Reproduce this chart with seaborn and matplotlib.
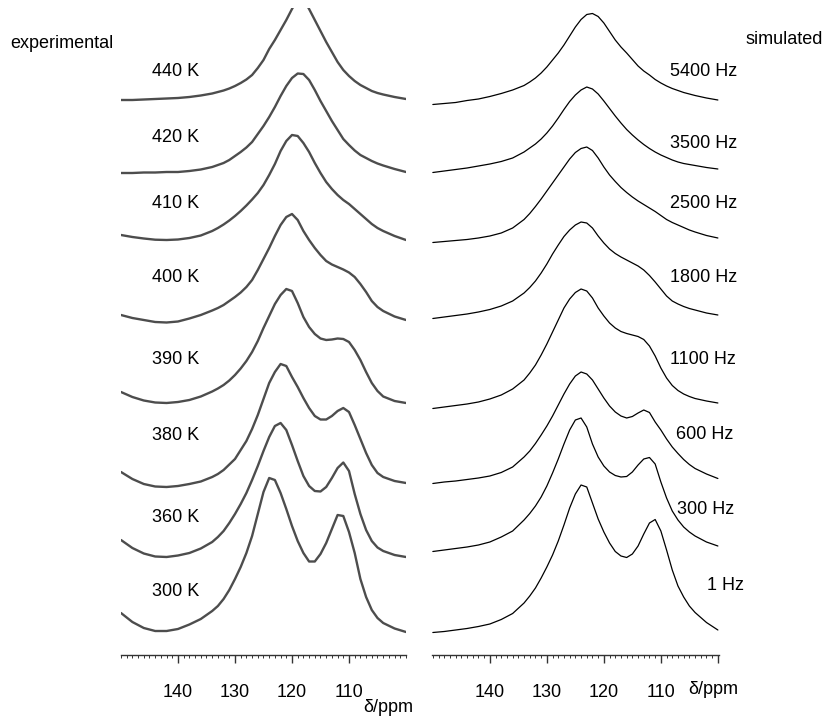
import numpy as np
import pandas as pd
import seaborn as sns
import matplotlib.pyplot as plt

# chemical shift grid (ppm) shared by all spectra
ppm = [150, 148, 146, 144, 142, 140, 138, 136,
       134, 133, 132, 131, 130, 129, 128, 127, 126, 125, 124, 123, 122, 121, 120,
       119, 118, 117, 116, 115, 114, 113, 112, 111, 110,
       109, 108, 107, 106, 105, 104, 102, 100]

# experimental spectra, intensity above each trace's baseline
exp_labels = ["440 K", "420 K", "410 K", "400 K", "390 K", "380 K", "360 K", "300 K"]
exp_440 = [-1, -1, -0.5, 0, 0.5, 1, 2, 3.5,
           5.5, 7, 8.5, 10.5, 13, 16, 19.5, 24, 31, 39, 50, 59, 69, 79, 90,
           100, 100, 90, 79, 68, 57, 47, 37, 29, 23, 18, 14, 11, 8, 6, 4.5, 2, 0]
exp_420 = [-1, -1, -0.5, -0.5, 0, 0, 1, 2.5,
           5, 7, 9, 12, 16, 20, 24.5, 30, 38, 46, 55, 65, 76, 86, 94,
           98.5, 98, 92, 82, 71, 61, 51, 42, 33, 27, 21.5, 17, 14, 11, 8.5, 6.5, 3, 0]
exp_410 = [5, 3, 1.5, 0.3, 0, 0.5, 2, 4.5,
           9, 12, 15.5, 19.5, 24, 29, 34.5, 40.5, 47, 55, 65, 76, 89, 99, 105,
           104, 97, 88, 77, 67, 58, 51, 45, 40, 36, 31, 26, 21, 16, 12, 9, 4, 0]
exp_400 = [5, 2, 0, -2, -2.5, -1.5, 1.5, 5,
           9.5, 12, 15, 19, 23, 27.5, 33, 40, 50, 61, 72, 84, 95, 103, 106,
           100, 89, 80, 72, 65, 59, 55.5, 53, 50.5, 47.5, 43, 36, 28, 19, 13, 9, 3.5, 0]
exp_390 = [11, 6, 2.5, 0.5, 0, 1, 3, 6.5,
           11.5, 14.5, 18, 22.5, 28, 34.5, 42, 51, 62, 75, 87, 99, 108, 114, 112,
           100, 86, 76, 69, 64.5, 63, 63.5, 64.5, 64, 61, 53, 43, 31, 20, 12, 6.5, 2, 0]
exp_380 = [11, 4, -1, -3.5, -4, -3, -1, 1.5,
           6, 9, 13, 18.5, 24, 33, 42, 54, 68, 84, 100, 111, 119, 117, 106,
           96, 85, 75, 67, 63.5, 63.5, 67, 72, 75, 71, 58, 44, 30, 18, 10, 6, 2, 0]
exp_360 = [17, 9, 3.5, 0.5, 0, 1.5, 4, 8.5,
           15, 20, 26, 34, 43, 53, 64, 77, 91, 106, 120, 131, 134, 127, 112,
           96, 81, 71, 66, 65.5, 70, 79, 89, 94.5, 86, 63, 43, 27, 16, 9.5, 6, 2, 0]
exp_300 = [19, 10, 4, 1, 1, 3, 7.5, 13,
           21, 26, 33, 42, 53, 65, 79, 96, 118, 140, 154, 152, 139, 123, 106,
           91, 79, 70.5, 70.5, 78, 89, 103, 117, 116, 100, 79, 53, 35, 22, 14, 9, 3.5, 0]

# simulated spectra (exchange rates)
sim_labels = ["5400 Hz", "3500 Hz", "2500 Hz", "1800 Hz", "1100 Hz", "600 Hz", "300 Hz", "1 Hz"]
sim_5400 = [0.5, 1.5, 2.5, 4.5, 6, 8.5, 11.5, 15,
            19.5, 23, 27, 32, 38, 45, 52, 60, 69, 78, 85.5, 90.5, 91.5, 88.5, 82,
            73.5, 65, 58, 52, 45.5, 39, 34, 30, 25.5, 22, 19, 16.5, 14.5, 12.5, 11, 9.5, 7, 5]
sim_3500 = [0.5, 2, 3.5, 5, 7, 9, 11.5, 15,
            21, 25, 29, 34, 40, 47, 55, 63.5, 71.5, 78, 83, 86, 84, 79, 72,
            64.5, 57, 50, 43.5, 38, 33, 28.5, 24.5, 21, 18, 15.5, 13, 11, 9.5, 8.5, 7.5, 5.5, 4]
sim_2500 = [0.5, 1.5, 2.5, 3.5, 5, 7, 10, 15,
            23.5, 29.5, 36.5, 44, 52, 60, 68, 76, 84, 90.5, 94.5, 96, 92.5, 85, 76,
            68, 61.5, 55.5, 50.5, 46, 42, 38.5, 35, 31.5, 27.5, 23.5, 20.5, 18, 15.5, 13, 11, 7.5, 5]
sim_1800 = [0.5, 2, 3.5, 5, 7, 9.5, 13, 18,
            26, 31.5, 38, 46, 55, 65, 74, 82.5, 89, 94, 97, 96, 91, 83, 76,
            70, 65.5, 62, 59, 56, 53, 49, 43.5, 37, 30, 23, 18, 15, 12.5, 10.5, 9, 6, 4]
sim_1100 = [0.5, 2, 3.5, 5, 7, 10, 14, 20,
            29, 36, 44, 54, 65, 77, 89, 101, 110, 116.5, 120, 118, 111, 101, 93,
            86, 81, 77.5, 75.5, 74, 72.5, 69.5, 63, 53, 41, 31, 23.5, 18.5, 15, 12.5, 10.5, 8, 6]
sim_600 = [0.5, 2, 3, 4.5, 6, 8, 11.5, 17,
           27, 33, 40.5, 49, 58, 68, 79, 90, 100, 108, 112, 110, 104, 95, 86,
           78, 72, 68, 66, 67.5, 71, 74, 71.5, 62, 54, 45, 37, 30.5, 24.5, 19.5, 15.5, 10, 5.5]
sim_300 = [0.5, 2, 3.5, 5, 7, 10, 15, 21,
           32, 38.5, 46, 55, 66, 79, 93, 108, 122, 132, 134, 125, 108, 95, 86,
           80, 76.5, 75, 75.5, 80, 87, 93, 94.5, 88, 70, 54, 41, 32, 25, 20, 16, 10, 6]
sim_1 = [0.5, 1.5, 3, 4.5, 6.5, 9, 13.5, 19.5,
         30, 37, 45, 55, 66, 78, 92, 108, 125, 139, 148, 146, 130, 114, 101,
         90, 81.5, 77, 75.5, 79, 87, 99, 110, 113.5, 102, 83, 63, 47, 36, 27, 20.5, 10.5, 3]

exp_series = [exp_440, exp_420, exp_410, exp_400, exp_390, exp_380, exp_360, exp_300]
sim_series = [sim_5400, sim_3500, sim_2500, sim_1800, sim_1100, sim_600, sim_300, sim_1]

# layout: vertical stacking offsets and label positions (figure pixels)
W, H = 827, 716
exp_offsets = [556, 483, 415, 335, 252, 172, 98, 23]
sim_offsets = [550, 482, 412, 336, 246, 171, 103, 22]
exp_label_y = [72, 137, 203, 278, 360, 436, 518, 592]
sim_label_xy = [(670, 71), (670, 143), (670, 203), (670, 278), (670, 360),
                (676, 435), (677, 510), (707, 586)]


def stacked_frame(series, offsets, names):
    frames = []
    for name, vals, off in zip(names, series, offsets):
        frames.append(pd.DataFrame({"ppm": ppm,
                                    "y": np.asarray(vals, float) + off,
                                    "spectrum": name}))
    return pd.concat(frames, ignore_index=True)


sns.set_theme(style="ticks")
plt.rcParams["font.family"] = ["Liberation Sans", "DejaVu Sans"]
plt.rcParams["text.color"] = "black"

fig = plt.figure(figsize=(W / 100, H / 100), dpi=100)
bottom = (H - 655) / H
height = 647 / H
ax_l = fig.add_axes([120.7 / W, bottom, 285.3 / W, height])
ax_r = fig.add_axes([431.7 / W, bottom, 287.6 / W, height])

sns.lineplot(data=stacked_frame(exp_series, exp_offsets, exp_labels),
             x="ppm", y="y", units="spectrum", estimator=None, sort=False,
             color="#4d4d4d", linewidth=1.7, ax=ax_l)
sns.lineplot(data=stacked_frame(sim_series, sim_offsets, sim_labels),
             x="ppm", y="y", units="spectrum", estimator=None, sort=False,
             color="black", linewidth=0.9, ax=ax_r)

for ax, xlim, majors in [(ax_l, (150.05, 100.0), [140, 130, 120, 110]),
                         (ax_r, (150.2, 99.75), [140, 130, 120, 110, 100])]:
    ax.set_xlim(*xlim)
    ax.set_ylim(0, 647)
    ax.set_xlabel("")
    ax.set_ylabel("")
    ax.set_yticks([])
    ax.set_xticks(majors)
    ax.set_xticklabels([str(m) if m != 100 else "" for m in majors])
    ax.set_xticks(np.arange(100, 151, 1), minor=True)
    sns.despine(ax=ax, left=True)
    ax.spines["bottom"].set_color("#333333")
    ax.spines["bottom"].set_linewidth(1.0)
    ax.tick_params(axis="x", which="major", direction="out", length=5.8,
                   width=1.0, color="#333333", pad=15, labelsize=13,
                   labelcolor="black")
    ax.tick_params(axis="x", which="minor", direction="out", length=2.2,
                   width=0.7, color="#333333")
    ax.patch.set_alpha(0)

for lab, y in zip(exp_labels, exp_label_y):
    fig.text(152 / W, 1 - y / H, lab, fontsize=13, va="center", ha="left")
for lab, (x, y) in zip(sim_labels, sim_label_xy):
    fig.text(x / W, 1 - y / H, lab, fontsize=13, va="center", ha="left")

fig.text(10 / W, 1 - 43 / H, "experimental", fontsize=13, va="center", ha="left")
fig.text(745 / W, 1 - 40 / H, "simulated", fontsize=13, va="center", ha="left")
fig.text(363 / W, 1 - 707 / H, "δ/ppm", fontsize=13, va="center", ha="left")
fig.text(688 / W, 1 - 690 / H, "δ/ppm", fontsize=13, va="center", ha="left")

fig.savefig("out.png", dpi=100)
